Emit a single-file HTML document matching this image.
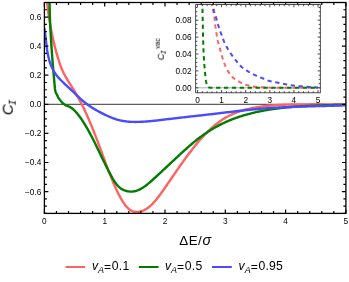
<!DOCTYPE html>
<html><head><meta charset="utf-8"><title>plot</title>
<style>html,body{margin:0;padding:0;background:#fff;}body{width:349px;height:282px;overflow:hidden;font-family:"Liberation Sans",sans-serif;}</style>
</head><body>
<svg width="349" height="282" viewBox="0 0 349 282" style="display:block">
<rect width="349" height="282" fill="#fff"/>
<defs>
<clipPath id="cm"><rect x="44.4" y="2.5" width="301.5" height="210.9"/></clipPath>
<clipPath id="ci"><rect x="195.7" y="4.6" width="124.60000000000002" height="88.2"/></clipPath>
</defs>
<line x1="44.4" y1="104.31" x2="345.9" y2="104.31" stroke="#000" stroke-width="0.8"/>
<g clip-path="url(#cm)" fill="none" stroke-width="2.4" stroke-linejoin="round">
<path d="M47.11,2.40 L47.21,3.38 L47.32,4.35 L47.43,5.33 L47.54,6.31 L47.66,7.28 L47.77,8.26 L47.89,9.23 L48.02,10.21 L48.14,11.19 L48.27,12.16 L48.40,13.14 L48.54,14.12 L48.67,15.09 L48.81,16.07 L48.96,17.04 L49.10,18.02 L49.25,19.00 L49.40,19.97 L49.56,20.95 L49.72,21.93 L49.88,22.90 L50.04,23.88 L50.21,24.85 L50.38,25.83 L50.55,26.81 L50.73,27.78 L50.91,28.76 L51.09,29.74 L51.28,30.71 L51.47,31.69 L51.66,32.66 L51.86,33.64 L52.06,34.62 L52.26,35.59 L52.47,36.57 L52.68,37.55 L52.90,38.52 L53.12,39.50 L53.34,40.47 L53.56,41.45 L53.79,42.43 L54.03,43.40 L54.26,44.38 L54.50,45.36 L54.75,46.33 L54.99,47.31 L55.25,48.28 L55.50,49.26 L55.76,50.24 L56.03,51.21 L56.29,52.19 L56.56,53.17 L56.84,54.14 L57.12,55.12 L57.40,56.09 L57.69,57.07 L57.98,58.05 L58.28,59.02 L58.58,60.00 L59.54,62.99 L60.50,65.70 L61.46,68.17 L62.42,70.43 L63.39,72.51 L64.35,74.43 L65.31,76.21 L66.27,77.89 L67.23,79.49 L68.19,81.04 L69.15,82.55 L70.11,84.05 L71.07,85.57 L72.03,87.11 L72.99,88.66 L73.96,90.24 L74.92,91.85 L75.88,93.48 L76.84,95.15 L77.80,96.85 L78.76,98.58 L79.72,100.35 L80.68,102.17 L81.64,104.02 L82.60,105.93 L83.57,107.88 L84.53,109.88 L85.49,111.93 L86.45,114.03 L87.41,116.19 L88.37,118.39 L89.33,120.64 L90.29,122.93 L91.25,125.26 L92.21,127.62 L93.17,130.02 L94.14,132.45 L95.10,134.92 L96.06,137.40 L97.02,139.91 L97.98,142.45 L98.94,145.00 L99.90,147.56 L100.86,150.14 L101.82,152.73 L102.78,155.33 L103.74,157.92 L104.71,160.50 L105.67,163.08 L106.63,165.64 L107.59,168.17 L108.55,170.68 L109.51,173.16 L110.47,175.61 L111.43,178.01 L112.39,180.37 L113.35,182.67 L114.32,184.92 L115.28,187.11 L116.24,189.23 L117.20,191.29 L118.16,193.26 L119.12,195.16 L120.08,196.98 L121.04,198.71 L122.00,200.35 L122.96,201.89 L123.92,203.33 L124.89,204.66 L125.85,205.89 L126.81,207.00 L127.77,207.99 L128.73,208.86 L129.69,209.61 L130.65,210.25 L131.61,210.78 L132.57,211.20 L133.53,211.53 L134.49,211.76 L135.46,211.91 L136.42,211.97 L137.38,211.96 L138.34,211.88 L139.30,211.73 L140.26,211.52 L141.22,211.26 L142.18,210.94 L143.14,210.56 L144.10,210.12 L145.06,209.63 L146.03,209.08 L146.99,208.47 L147.95,207.80 L148.91,207.08 L149.87,206.29 L150.83,205.44 L151.79,204.54 L152.75,203.57 L153.71,202.55 L154.67,201.47 L155.64,200.35 L156.60,199.18 L157.56,197.97 L158.52,196.73 L159.48,195.45 L160.44,194.14 L161.40,192.81 L162.36,191.46 L163.32,190.09 L164.28,188.71 L165.24,187.33 L166.21,185.94 L167.17,184.54 L168.13,183.15 L169.09,181.75 L170.05,180.35 L171.01,178.95 L171.97,177.55 L172.93,176.15 L173.89,174.75 L174.85,173.35 L175.81,171.96 L176.78,170.57 L177.74,169.18 L178.70,167.80 L179.66,166.43 L180.62,165.06 L181.58,163.70 L182.54,162.35 L183.50,161.01 L184.46,159.68 L185.42,158.35 L186.39,157.04 L187.35,155.74 L188.31,154.45 L189.27,153.18 L190.23,151.91 L191.19,150.66 L192.15,149.43 L193.11,148.20 L194.07,147.00 L195.03,145.80 L195.99,144.63 L196.96,143.46 L197.92,142.32 L198.88,141.19 L199.84,140.08 L200.80,138.99 L201.76,137.91 L202.72,136.86 L203.68,135.82 L204.64,134.80 L205.60,133.81 L206.56,132.83 L207.53,131.87 L208.49,130.94 L209.45,130.02 L210.41,129.13 L211.37,128.25 L212.33,127.40 L213.29,126.56 L214.25,125.75 L215.21,124.96 L216.17,124.18 L217.13,123.43 L218.10,122.70 L219.06,121.99 L220.02,121.30 L220.98,120.62 L221.94,119.97 L222.90,119.34 L223.86,118.73 L224.82,118.15 L225.78,117.58 L226.74,117.03 L227.71,116.50 L228.67,115.99 L229.63,115.50 L230.59,115.03 L231.55,114.57 L232.51,114.13 L233.47,113.71 L234.43,113.31 L235.39,112.92 L236.35,112.54 L237.31,112.18 L238.28,111.84 L239.24,111.51 L240.20,111.19 L241.16,110.88 L242.12,110.59 L243.08,110.30 L244.04,110.03 L245.00,109.77 L245.96,109.52 L246.92,109.28 L247.88,109.05 L248.85,108.82 L249.81,108.61 L250.77,108.40 L251.73,108.20 L252.69,108.00 L253.65,107.82 L254.61,107.64 L255.57,107.47 L256.53,107.30 L257.49,107.14 L258.46,106.99 L259.42,106.84 L260.38,106.70 L261.34,106.57 L262.30,106.44 L263.26,106.31 L264.22,106.20 L265.18,106.08 L266.14,105.98 L267.10,105.87 L268.06,105.78 L269.03,105.68 L269.99,105.60 L270.95,105.51 L271.91,105.43 L272.87,105.36 L273.83,105.29 L274.79,105.22 L275.75,105.16 L276.71,105.10 L277.67,105.04 L278.63,104.99 L279.60,104.94 L280.56,104.89 L281.52,104.85 L282.48,104.81 L283.44,104.77 L284.40,104.73 L285.36,104.70 L286.32,104.67 L287.28,104.64 L288.24,104.61 L289.20,104.59 L290.17,104.56 L291.13,104.54 L292.09,104.52 L293.05,104.50 L294.01,104.48 L294.97,104.46 L295.93,104.45 L296.89,104.43 L297.85,104.42 L298.81,104.40 L299.78,104.39 L300.74,104.38 L301.70,104.37 L302.66,104.36 L303.62,104.36 L304.58,104.35 L305.54,104.34 L306.50,104.34 L307.46,104.33 L308.42,104.33 L309.38,104.33 L310.35,104.32 L311.31,104.32 L312.27,104.32 L313.23,104.32 L314.19,104.32 L315.15,104.32 L316.11,104.32 L317.07,104.32 L318.03,104.32 L318.99,104.32 L319.95,104.32 L320.92,104.32 L321.88,104.32 L322.84,104.32 L323.80,104.32 L324.76,104.33 L325.72,104.33 L326.68,104.33 L327.64,104.33 L328.60,104.33 L329.56,104.33 L330.53,104.33 L331.49,104.33 L332.45,104.33 L333.41,104.32 L334.37,104.32 L335.33,104.32 L336.29,104.32 L337.25,104.31 L338.21,104.31 L339.17,104.30 L340.13,104.30 L341.10,104.29 L342.06,104.28 L343.02,104.28 L343.98,104.27 L344.94,104.26 L345.90,104.24" stroke="#ff6262"/>
<path d="M49.54,2.40 L49.57,3.97 L49.60,5.54 L49.63,7.11 L49.67,8.68 L49.71,10.25 L49.75,11.82 L49.79,13.39 L49.84,14.96 L49.90,16.53 L49.95,18.09 L50.01,19.66 L50.08,21.23 L50.14,22.80 L50.21,24.37 L50.28,25.94 L50.36,27.51 L50.44,29.08 L50.52,30.65 L50.60,32.22 L50.69,33.79 L50.78,35.36 L50.87,36.93 L50.96,38.50 L51.06,40.07 L51.16,41.64 L51.26,43.21 L51.36,44.78 L51.47,46.35 L51.58,47.92 L51.69,49.48 L51.80,51.05 L51.91,52.62 L52.03,54.19 L52.15,55.76 L52.27,57.33 L52.39,58.90 L52.51,60.47 L52.64,62.04 L52.76,63.61 L52.89,65.18 L53.02,66.75 L53.15,68.32 L53.29,69.89 L53.42,71.46 L53.55,73.03 L53.69,74.60 L53.83,76.17 L53.97,77.74 L54.11,79.31 L54.25,80.87 L54.39,82.44 L54.53,84.01 L54.67,85.58 L54.82,87.15 L54.96,88.72 L55.16,90.29 L55.52,91.86 L56.14,93.43 L57.13,95.00 L58.10,97.26 L59.06,98.85 L60.03,100.09 L61.00,101.24 L61.96,102.31 L62.93,103.28 L63.89,104.11 L64.86,104.77 L65.82,105.29 L66.79,105.71 L67.76,106.10 L68.72,106.48 L69.69,106.91 L70.65,107.43 L71.62,108.05 L72.58,108.78 L73.55,109.60 L74.52,110.51 L75.48,111.50 L76.45,112.57 L77.41,113.71 L78.38,114.92 L79.34,116.19 L80.31,117.52 L81.28,118.90 L82.24,120.34 L83.21,121.82 L84.17,123.35 L85.14,124.92 L86.11,126.54 L87.07,128.20 L88.04,129.90 L89.00,131.63 L89.97,133.41 L90.93,135.22 L91.90,137.06 L92.87,138.93 L93.83,140.83 L94.80,142.76 L95.76,144.71 L96.73,146.69 L97.69,148.68 L98.66,150.69 L99.63,152.70 L100.59,154.72 L101.56,156.74 L102.52,158.75 L103.49,160.75 L104.46,162.74 L105.42,164.71 L106.39,166.66 L107.35,168.58 L108.32,170.47 L109.28,172.33 L110.25,174.14 L111.22,175.91 L112.18,177.62 L113.15,179.25 L114.11,180.81 L115.08,182.27 L116.04,183.63 L117.01,184.87 L117.98,185.98 L118.94,186.95 L119.91,187.80 L120.87,188.52 L121.84,189.14 L122.81,189.67 L123.77,190.11 L124.74,190.47 L125.70,190.78 L126.67,191.04 L127.63,191.25 L128.60,191.41 L129.57,191.52 L130.53,191.58 L131.50,191.59 L132.46,191.54 L133.43,191.44 L134.39,191.28 L135.36,191.06 L136.33,190.79 L137.29,190.46 L138.26,190.08 L139.22,189.65 L140.19,189.18 L141.15,188.66 L142.12,188.09 L143.09,187.48 L144.05,186.84 L145.02,186.16 L145.98,185.44 L146.95,184.70 L147.92,183.93 L148.88,183.13 L149.85,182.31 L150.81,181.48 L151.78,180.63 L152.74,179.76 L153.71,178.89 L154.68,178.01 L155.64,177.12 L156.61,176.24 L157.57,175.35 L158.54,174.45 L159.50,173.56 L160.47,172.66 L161.44,171.76 L162.40,170.86 L163.37,169.96 L164.33,169.06 L165.30,168.15 L166.27,167.25 L167.23,166.34 L168.20,165.44 L169.16,164.53 L170.13,163.63 L171.09,162.72 L172.06,161.81 L173.03,160.91 L173.99,160.01 L174.96,159.10 L175.92,158.20 L176.89,157.30 L177.85,156.40 L178.82,155.51 L179.79,154.61 L180.75,153.73 L181.72,152.84 L182.68,151.96 L183.65,151.08 L184.61,150.21 L185.58,149.34 L186.55,148.48 L187.51,147.63 L188.48,146.78 L189.44,145.94 L190.41,145.11 L191.38,144.29 L192.34,143.47 L193.31,142.67 L194.27,141.87 L195.24,141.08 L196.20,140.31 L197.17,139.54 L198.14,138.79 L199.10,138.05 L200.07,137.31 L201.03,136.60 L202.00,135.89 L202.96,135.20 L203.93,134.51 L204.90,133.84 L205.86,133.19 L206.83,132.54 L207.79,131.90 L208.76,131.28 L209.73,130.67 L210.69,130.07 L211.66,129.48 L212.62,128.90 L213.59,128.33 L214.55,127.78 L215.52,127.23 L216.49,126.69 L217.45,126.17 L218.42,125.65 L219.38,125.15 L220.35,124.65 L221.31,124.17 L222.28,123.69 L223.25,123.23 L224.21,122.77 L225.18,122.32 L226.14,121.89 L227.11,121.46 L228.07,121.04 L229.04,120.63 L230.01,120.23 L230.97,119.83 L231.94,119.45 L232.90,119.07 L233.87,118.70 L234.84,118.34 L235.80,117.99 L236.77,117.65 L237.73,117.31 L238.70,116.98 L239.66,116.66 L240.63,116.34 L241.60,116.03 L242.56,115.73 L243.53,115.44 L244.49,115.15 L245.46,114.87 L246.42,114.59 L247.39,114.33 L248.36,114.06 L249.32,113.81 L250.29,113.56 L251.25,113.31 L252.22,113.07 L253.19,112.84 L254.15,112.61 L255.12,112.38 L256.08,112.16 L257.05,111.95 L258.01,111.74 L258.98,111.54 L259.95,111.34 L260.91,111.14 L261.88,110.95 L262.84,110.76 L263.81,110.58 L264.77,110.41 L265.74,110.23 L266.71,110.06 L267.67,109.90 L268.64,109.74 L269.60,109.58 L270.57,109.43 L271.54,109.28 L272.50,109.14 L273.47,108.99 L274.43,108.86 L275.40,108.72 L276.36,108.59 L277.33,108.47 L278.30,108.34 L279.26,108.22 L280.23,108.11 L281.19,107.99 L282.16,107.88 L283.12,107.78 L284.09,107.67 L285.06,107.57 L286.02,107.47 L286.99,107.38 L287.95,107.29 L288.92,107.20 L289.88,107.11 L290.85,107.02 L291.82,106.94 L292.78,106.86 L293.75,106.79 L294.71,106.71 L295.68,106.64 L296.65,106.57 L297.61,106.50 L298.58,106.43 L299.54,106.37 L300.51,106.31 L301.47,106.25 L302.44,106.19 L303.41,106.13 L304.37,106.08 L305.34,106.03 L306.30,105.98 L307.27,105.93 L308.23,105.88 L309.20,105.83 L310.17,105.79 L311.13,105.75 L312.10,105.71 L313.06,105.67 L314.03,105.63 L315.00,105.59 L315.96,105.55 L316.93,105.52 L317.89,105.49 L318.86,105.45 L319.82,105.42 L320.79,105.39 L321.76,105.36 L322.72,105.33 L323.69,105.30 L324.65,105.28 L325.62,105.25 L326.58,105.23 L327.55,105.20 L328.52,105.18 L329.48,105.15 L330.45,105.13 L331.41,105.11 L332.38,105.09 L333.34,105.06 L334.31,105.04 L335.28,105.02 L336.24,105.00 L337.21,104.98 L338.17,104.96 L339.14,104.94 L340.11,104.92 L341.07,104.90 L342.04,104.88 L343.00,104.86 L343.97,104.84 L344.93,104.82 L345.90,104.80" stroke="#007d00"/>
<path d="M44.35,28.00 L44.45,28.58 L44.54,29.15 L44.63,29.73 L44.71,30.31 L44.79,30.88 L44.87,31.46 L44.95,32.03 L45.03,32.61 L45.10,33.19 L45.17,33.76 L45.24,34.34 L45.31,34.92 L45.38,35.49 L45.45,36.07 L45.51,36.64 L45.58,37.22 L45.64,37.80 L45.71,38.37 L45.77,38.95 L45.83,39.53 L45.90,40.10 L45.96,40.68 L46.02,41.25 L46.09,41.83 L46.15,42.41 L46.22,42.98 L46.28,43.56 L46.35,44.14 L46.42,44.71 L46.49,45.29 L46.56,45.86 L46.64,46.44 L46.71,47.02 L46.79,47.59 L46.87,48.17 L46.95,48.75 L47.03,49.32 L47.12,49.90 L47.21,50.47 L47.30,51.05 L47.39,51.63 L47.49,52.20 L47.60,52.78 L47.70,53.36 L47.81,53.93 L47.92,54.51 L48.04,55.08 L48.16,55.66 L48.29,56.24 L48.42,56.81 L48.55,57.39 L48.69,57.97 L48.83,58.54 L48.98,59.12 L49.14,59.69 L49.30,60.27 L49.46,60.85 L49.64,61.42 L49.81,62.00 L50.80,64.75 L51.79,67.17 L52.78,69.28 L53.77,71.14 L54.76,72.77 L55.75,74.22 L56.74,75.52 L57.73,76.73 L58.72,77.87 L59.72,78.96 L60.71,80.01 L61.70,81.02 L62.69,82.01 L63.68,82.96 L64.67,83.90 L65.66,84.82 L66.65,85.73 L67.64,86.63 L68.63,87.54 L69.62,88.45 L70.61,89.37 L71.60,90.31 L72.59,91.25 L73.58,92.20 L74.57,93.16 L75.56,94.11 L76.55,95.07 L77.54,96.01 L78.53,96.95 L79.52,97.88 L80.51,98.79 L81.50,99.68 L82.49,100.56 L83.48,101.41 L84.47,102.24 L85.46,103.03 L86.45,103.80 L87.44,104.54 L88.43,105.25 L89.42,105.94 L90.41,106.61 L91.40,107.25 L92.39,107.87 L93.38,108.48 L94.37,109.07 L95.36,109.64 L96.35,110.20 L97.35,110.75 L98.34,111.29 L99.33,111.82 L100.32,112.34 L101.31,112.86 L102.30,113.36 L103.29,113.87 L104.28,114.36 L105.27,114.84 L106.26,115.32 L107.25,115.78 L108.24,116.23 L109.23,116.67 L110.22,117.09 L111.21,117.50 L112.20,117.89 L113.19,118.27 L114.18,118.63 L115.17,118.97 L116.16,119.29 L117.15,119.60 L118.14,119.88 L119.13,120.14 L120.12,120.38 L121.11,120.60 L122.10,120.80 L123.09,120.98 L124.08,121.14 L125.07,121.28 L126.06,121.41 L127.05,121.53 L128.04,121.62 L129.03,121.71 L130.02,121.77 L131.01,121.83 L132.00,121.87 L132.99,121.90 L133.98,121.92 L134.97,121.93 L135.97,121.93 L136.96,121.92 L137.95,121.90 L138.94,121.88 L139.93,121.84 L140.92,121.80 L141.91,121.76 L142.90,121.71 L143.89,121.65 L144.88,121.58 L145.87,121.52 L146.86,121.44 L147.85,121.36 L148.84,121.28 L149.83,121.20 L150.82,121.10 L151.81,121.01 L152.80,120.91 L153.79,120.81 L154.78,120.70 L155.77,120.60 L156.76,120.49 L157.75,120.38 L158.74,120.26 L159.73,120.14 L160.72,120.03 L161.71,119.91 L162.70,119.79 L163.69,119.67 L164.68,119.54 L165.67,119.42 L166.66,119.30 L167.65,119.18 L168.64,119.06 L169.63,118.94 L170.62,118.82 L171.61,118.70 L172.60,118.58 L173.59,118.46 L174.59,118.34 L175.58,118.23 L176.57,118.11 L177.56,117.99 L178.55,117.88 L179.54,117.77 L180.53,117.65 L181.52,117.54 L182.51,117.43 L183.50,117.32 L184.49,117.21 L185.48,117.09 L186.47,116.98 L187.46,116.87 L188.45,116.76 L189.44,116.65 L190.43,116.54 L191.42,116.43 L192.41,116.32 L193.40,116.21 L194.39,116.10 L195.38,115.99 L196.37,115.88 L197.36,115.77 L198.35,115.66 L199.34,115.55 L200.33,115.44 L201.32,115.33 L202.31,115.22 L203.30,115.11 L204.29,115.00 L205.28,114.89 L206.27,114.78 L207.26,114.66 L208.25,114.55 L209.24,114.43 L210.23,114.32 L211.22,114.20 L212.22,114.09 L213.21,113.97 L214.20,113.86 L215.19,113.74 L216.18,113.62 L217.17,113.50 L218.16,113.38 L219.15,113.27 L220.14,113.15 L221.13,113.03 L222.12,112.91 L223.11,112.79 L224.10,112.67 L225.09,112.55 L226.08,112.43 L227.07,112.31 L228.06,112.20 L229.05,112.08 L230.04,111.96 L231.03,111.84 L232.02,111.73 L233.01,111.61 L234.00,111.49 L234.99,111.38 L235.98,111.26 L236.97,111.15 L237.96,111.04 L238.95,110.92 L239.94,110.81 L240.93,110.70 L241.92,110.59 L242.91,110.48 L243.90,110.37 L244.89,110.27 L245.88,110.16 L246.87,110.06 L247.86,109.95 L248.85,109.85 L249.84,109.75 L250.84,109.65 L251.83,109.55 L252.82,109.46 L253.81,109.36 L254.80,109.27 L255.79,109.18 L256.78,109.08 L257.77,109.00 L258.76,108.91 L259.75,108.82 L260.74,108.74 L261.73,108.66 L262.72,108.58 L263.71,108.50 L264.70,108.43 L265.69,108.35 L266.68,108.28 L267.67,108.21 L268.66,108.14 L269.65,108.07 L270.64,108.01 L271.63,107.94 L272.62,107.88 L273.61,107.82 L274.60,107.76 L275.59,107.70 L276.58,107.64 L277.57,107.59 L278.56,107.53 L279.55,107.48 L280.54,107.43 L281.53,107.38 L282.52,107.33 L283.51,107.28 L284.50,107.23 L285.49,107.19 L286.48,107.14 L287.47,107.10 L288.46,107.06 L289.46,107.02 L290.45,106.98 L291.44,106.94 L292.43,106.90 L293.42,106.86 L294.41,106.82 L295.40,106.79 L296.39,106.75 L297.38,106.72 L298.37,106.68 L299.36,106.65 L300.35,106.62 L301.34,106.58 L302.33,106.55 L303.32,106.52 L304.31,106.49 L305.30,106.46 L306.29,106.43 L307.28,106.40 L308.27,106.38 L309.26,106.35 L310.25,106.32 L311.24,106.29 L312.23,106.27 L313.22,106.24 L314.21,106.21 L315.20,106.19 L316.19,106.16 L317.18,106.14 L318.17,106.11 L319.16,106.09 L320.15,106.06 L321.14,106.03 L322.13,106.01 L323.12,105.98 L324.11,105.96 L325.10,105.93 L326.09,105.91 L327.09,105.88 L328.08,105.86 L329.07,105.83 L330.06,105.80 L331.05,105.78 L332.04,105.75 L333.03,105.72 L334.02,105.69 L335.01,105.67 L336.00,105.64 L336.99,105.61 L337.98,105.58 L338.97,105.55 L339.96,105.52 L340.95,105.49 L341.94,105.46 L342.93,105.42 L343.92,105.39 L344.91,105.36 L345.90,105.32" stroke="#4a4aff"/>
</g>
<path d="M44.40,213.4v-4.0M44.40,2.5v4.0M56.46,213.4v-2.5M56.46,2.5v2.5M68.52,213.4v-2.5M68.52,2.5v2.5M80.58,213.4v-2.5M80.58,2.5v2.5M92.64,213.4v-2.5M92.64,2.5v2.5M104.70,213.4v-4.0M104.70,2.5v4.0M116.76,213.4v-2.5M116.76,2.5v2.5M128.82,213.4v-2.5M128.82,2.5v2.5M140.88,213.4v-2.5M140.88,2.5v2.5M152.94,213.4v-2.5M152.94,2.5v2.5M165.00,213.4v-4.0M165.00,2.5v4.0M177.06,213.4v-2.5M177.06,2.5v2.5M189.12,213.4v-2.5M189.12,2.5v2.5M201.18,213.4v-2.5M201.18,2.5v2.5M213.24,213.4v-2.5M213.24,2.5v2.5M225.30,213.4v-4.0M225.30,2.5v4.0M237.36,213.4v-2.5M237.36,2.5v2.5M249.42,213.4v-2.5M249.42,2.5v2.5M261.48,213.4v-2.5M261.48,2.5v2.5M273.54,213.4v-2.5M273.54,2.5v2.5M285.60,213.4v-4.0M285.60,2.5v4.0M297.66,213.4v-2.5M297.66,2.5v2.5M309.72,213.4v-2.5M309.72,2.5v2.5M321.78,213.4v-2.5M321.78,2.5v2.5M333.84,213.4v-2.5M333.84,2.5v2.5M345.90,213.4v-4.0M345.90,2.5v4.0M44.4,213.40h2.5M345.9,213.40h-2.5M44.4,206.13h2.5M345.9,206.13h-2.5M44.4,198.86h2.5M345.9,198.86h-2.5M44.4,191.58h4.0M345.9,191.58h-4.0M44.4,184.31h2.5M345.9,184.31h-2.5M44.4,177.04h2.5M345.9,177.04h-2.5M44.4,169.77h2.5M345.9,169.77h-2.5M44.4,162.49h4.0M345.9,162.49h-4.0M44.4,155.22h2.5M345.9,155.22h-2.5M44.4,147.95h2.5M345.9,147.95h-2.5M44.4,140.68h2.5M345.9,140.68h-2.5M44.4,133.40h4.0M345.9,133.40h-4.0M44.4,126.13h2.5M345.9,126.13h-2.5M44.4,118.86h2.5M345.9,118.86h-2.5M44.4,111.59h2.5M345.9,111.59h-2.5M44.4,104.31h4.0M345.9,104.31h-4.0M44.4,97.04h2.5M345.9,97.04h-2.5M44.4,89.77h2.5M345.9,89.77h-2.5M44.4,82.50h2.5M345.9,82.50h-2.5M44.4,75.22h4.0M345.9,75.22h-4.0M44.4,67.95h2.5M345.9,67.95h-2.5M44.4,60.68h2.5M345.9,60.68h-2.5M44.4,53.41h2.5M345.9,53.41h-2.5M44.4,46.13h4.0M345.9,46.13h-4.0M44.4,38.86h2.5M345.9,38.86h-2.5M44.4,31.59h2.5M345.9,31.59h-2.5M44.4,24.32h2.5M345.9,24.32h-2.5M44.4,17.04h4.0M345.9,17.04h-4.0M44.4,9.77h2.5M345.9,9.77h-2.5M44.4,2.50h2.5M345.9,2.50h-2.5" stroke="#000" stroke-width="1.2" fill="none"/>
<rect x="44.4" y="2.5" width="301.5" height="210.9" fill="none" stroke="#000" stroke-width="1.3"/>
<g font-family="Liberation Sans, sans-serif" font-size="8.3" fill="#000" style="filter:grayscale(1)">
<text x="44.40" y="224.3" text-anchor="middle">0</text>
<text x="104.70" y="224.3" text-anchor="middle">1</text>
<text x="165.00" y="224.3" text-anchor="middle">2</text>
<text x="225.30" y="224.3" text-anchor="middle">3</text>
<text x="285.60" y="224.3" text-anchor="middle">4</text>
<text x="345.90" y="224.3" text-anchor="middle">5</text>
<text x="41.4" y="20.04" text-anchor="end">0.6</text>
<text x="41.4" y="49.13" text-anchor="end">0.4</text>
<text x="41.4" y="78.22" text-anchor="end">0.2</text>
<text x="41.4" y="107.31" text-anchor="end">0.0</text>
<text x="41.4" y="136.40" text-anchor="end">−0.2</text>
<text x="41.4" y="165.49" text-anchor="end">−0.4</text>
<text x="41.4" y="194.58" text-anchor="end">−0.6</text>
</g>
<rect x="195.7" y="4.6" width="124.60000000000002" height="88.2" fill="#fff"/>
<line x1="195.7" y1="87.8" x2="320.3" y2="87.8" stroke="#999" stroke-width="0.8"/>
<g clip-path="url(#ci)" fill="none" stroke-width="2.0" stroke-dasharray="4.3 3.6" stroke-dashoffset="4.1">
<path d="M212.70,5.00 L212.73,5.41 L212.76,5.82 L212.79,6.23 L212.82,6.64 L212.86,7.05 L212.90,7.45 L212.93,7.86 L212.98,8.27 L213.02,8.68 L213.06,9.09 L213.11,9.49 L213.15,9.90 L213.20,10.31 L213.25,10.71 L213.31,11.12 L213.37,11.52 L213.44,11.93 L213.50,12.33 L213.58,12.74 L213.65,13.14 L213.73,13.54 L213.80,13.95 L213.88,14.35 L213.96,14.75 L214.03,15.16 L214.11,15.56 L214.18,15.96 L214.25,16.37 L214.32,16.77 L214.38,17.18 L214.44,17.58 L214.50,17.99 L214.55,18.39 L214.60,18.80 L214.64,19.21 L214.69,19.62 L214.73,20.02 L214.77,20.43 L214.81,20.84 L214.84,21.25 L214.88,21.66 L214.92,22.07 L214.96,22.47 L214.99,22.88 L215.03,23.29 L215.07,23.70 L215.11,24.11 L215.15,24.52 L215.20,24.92 L215.24,25.33 L215.29,25.74 L215.34,26.14 L215.40,26.55 L215.45,26.96 L215.51,27.36 L215.57,27.77 L215.63,28.17 L215.69,28.58 L215.75,28.98 L215.82,29.39 L215.88,29.79 L215.95,30.20 L216.01,30.60 L216.08,31.01 L216.15,31.41 L216.22,31.82 L216.29,32.22 L216.35,32.63 L216.42,33.03 L216.49,33.43 L216.56,33.84 L216.62,34.24 L216.69,34.65 L216.76,35.05 L216.82,35.46 L216.89,35.86 L216.96,36.27 L217.03,36.67 L217.09,37.08 L217.16,37.48 L217.23,37.89 L217.31,38.29 L217.38,38.69 L217.45,39.10 L217.53,39.50 L217.61,39.90 L217.69,40.30 L217.77,40.70 L217.86,41.10 L217.95,41.50 L218.04,41.90 L218.14,42.30 L218.24,42.70 L218.34,43.09 L218.45,43.49 L218.56,43.88 L218.67,44.28 L218.79,44.67 L218.90,45.07 L219.02,45.46 L219.13,45.85 L219.25,46.25 L219.36,46.64 L219.47,47.04 L219.58,47.43 L219.69,47.83 L219.80,48.22 L219.90,48.62 L220.01,49.02 L220.11,49.41 L220.21,49.81 L220.32,50.21 L220.42,50.60 L220.53,51.00 L220.63,51.40 L220.73,51.79 L220.84,52.19 L220.94,52.59 L221.05,52.98 L221.16,53.38 L221.27,53.77 L221.38,54.17 L221.49,54.56 L221.60,54.96 L221.71,55.35 L221.83,55.74 L221.95,56.14 L222.06,56.53 L222.18,56.92 L222.30,57.32 L222.41,57.71 L222.53,58.10 L222.66,58.50 L222.78,58.89 L222.90,59.28 L223.03,59.67 L223.15,60.06 L223.28,60.45 L223.42,60.84 L223.55,61.22 L223.69,61.61 L223.82,61.99 L223.97,62.38 L224.11,62.76 L224.25,63.14 L224.40,63.53 L224.55,63.91 L224.70,64.29 L224.86,64.68 L225.01,65.06 L225.17,65.44 L225.33,65.82 L225.50,66.20 L225.66,66.58 L225.83,66.95 L226.00,67.33 L226.18,67.70 L226.35,68.07 L226.53,68.44 L226.72,68.80 L226.90,69.16 L227.09,69.52 L227.29,69.88 L227.48,70.23 L227.69,70.59 L227.89,70.94 L228.10,71.30 L228.31,71.65 L228.53,72.01 L228.75,72.36 L228.98,72.71 L229.21,73.06 L229.45,73.41 L229.68,73.75 L229.93,74.09 L230.17,74.42 L230.42,74.75 L230.68,75.08 L230.94,75.39 L231.20,75.71 L231.46,76.01 L231.73,76.31 L232.00,76.60 L232.28,76.88 L232.57,77.16 L232.86,77.43 L233.16,77.70 L233.47,77.97 L233.78,78.23 L234.10,78.49 L234.43,78.74 L234.76,78.99 L235.10,79.24 L235.44,79.48 L235.78,79.72 L236.13,79.95 L236.48,80.18 L236.83,80.40 L237.18,80.62 L237.54,80.84 L237.89,81.05 L238.24,81.25 L238.59,81.45 L238.95,81.65 L239.30,81.85 L239.66,82.04 L240.02,82.24 L240.39,82.43 L240.76,82.62 L241.12,82.81 L241.50,82.99 L241.87,83.17 L242.25,83.35 L242.62,83.52 L243.00,83.69 L243.38,83.85 L243.76,84.01 L244.15,84.16 L244.53,84.31 L244.91,84.45 L245.30,84.59 L245.69,84.71 L246.07,84.83 L246.46,84.95 L246.85,85.06 L247.24,85.16 L247.63,85.27 L248.03,85.37 L248.43,85.47 L248.82,85.57 L249.22,85.67 L249.62,85.76 L250.03,85.85 L250.43,85.94 L250.83,86.03 L251.24,86.11 L251.64,86.19 L252.05,86.26 L252.46,86.34 L252.86,86.41 L253.27,86.47 L253.68,86.53 L254.08,86.59 L254.49,86.65 L254.89,86.70 L255.30,86.75 L255.70,86.80 L256.11,86.84 L256.52,86.89 L256.93,86.93 L257.33,86.97 L257.74,87.01 L258.15,87.05 L258.56,87.09 L258.97,87.12 L259.38,87.15 L259.79,87.18 L260.20,87.21 L260.61,87.24 L261.02,87.26 L261.43,87.29 L261.84,87.31 L262.25,87.33 L262.65,87.34 L263.06,87.36 L263.47,87.38 L263.88,87.40 L264.29,87.42 L264.70,87.43 L265.11,87.45 L265.52,87.47 L265.93,87.48 L266.34,87.50 L266.75,87.52 L267.16,87.53 L267.57,87.54 L267.98,87.56 L268.39,87.57 L268.80,87.58 L269.21,87.60 L269.62,87.61 L270.03,87.62 L270.44,87.63 L270.85,87.64 L271.26,87.65 L271.67,87.66 L272.08,87.67 L272.49,87.67 L272.90,87.68 L273.31,87.68 L273.72,87.69 L274.13,87.69 L274.54,87.70 L274.95,87.70 L275.36,87.70 L275.77,87.70 L276.18,87.71 L276.59,87.71 L277.00,87.71 L277.41,87.71 L277.82,87.71 L278.23,87.72 L278.64,87.72 L279.05,87.72 L279.46,87.72 L279.87,87.72 L280.28,87.72 L280.69,87.73 L281.10,87.73 L281.51,87.73 L281.92,87.73 L282.33,87.73 L282.74,87.74 L283.15,87.74 L283.56,87.74 L283.97,87.74 L284.38,87.74 L284.79,87.74 L285.20,87.74 L285.61,87.75 L286.02,87.75 L286.43,87.75 L286.84,87.75 L287.25,87.75 L287.66,87.75 L288.07,87.75 L288.48,87.76 L288.89,87.76 L289.30,87.76 L289.71,87.76 L290.12,87.76 L290.53,87.76 L290.94,87.76 L291.35,87.76 L291.76,87.77 L292.17,87.77 L292.58,87.77 L292.99,87.77 L293.40,87.77 L293.81,87.77 L294.22,87.77 L294.63,87.77 L295.04,87.77 L295.45,87.77 L295.86,87.78 L296.27,87.78 L296.68,87.78 L297.09,87.78 L297.50,87.78 L297.91,87.78 L298.32,87.78 L298.73,87.78 L299.14,87.78 L299.55,87.78 L299.96,87.78 L300.37,87.79 L300.78,87.79 L301.19,87.79 L301.60,87.79 L302.01,87.79 L302.42,87.79 L302.83,87.79 L303.24,87.79 L303.65,87.79 L304.06,87.79 L304.47,87.79 L304.88,87.79 L305.29,87.79 L305.70,87.79 L306.11,87.79 L306.52,87.79 L306.93,87.79 L307.34,87.79 L307.75,87.80 L308.16,87.80 L308.57,87.80 L308.98,87.80 L309.39,87.80 L309.80,87.80 L310.21,87.80 L310.62,87.80 L311.03,87.80 L311.44,87.80 L311.85,87.80 L312.26,87.80 L312.67,87.80 L313.08,87.80 L313.49,87.80 L313.90,87.80 L314.31,87.80 L314.72,87.80 L315.13,87.80 L315.54,87.80 L315.95,87.80 L316.36,87.80 L316.77,87.80 L317.18,87.80 L317.59,87.80 L318.00,87.80" stroke="#ff6262"/>
<path d="M213.20,5.00 L213.23,5.38 L213.26,5.75 L213.30,6.13 L213.33,6.50 L213.38,6.88 L213.42,7.25 L213.47,7.62 L213.52,7.99 L213.58,8.36 L213.64,8.73 L213.69,9.10 L213.76,9.47 L213.82,9.84 L213.88,10.21 L213.95,10.57 L214.03,10.94 L214.11,11.30 L214.20,11.66 L214.29,12.02 L214.39,12.38 L214.50,12.74 L214.60,13.10 L214.72,13.46 L214.83,13.82 L214.95,14.17 L215.07,14.53 L215.19,14.89 L215.31,15.25 L215.43,15.60 L215.55,15.96 L215.67,16.32 L215.79,16.68 L215.90,17.03 L216.02,17.39 L216.13,17.75 L216.23,18.11 L216.34,18.47 L216.44,18.83 L216.54,19.19 L216.64,19.55 L216.74,19.92 L216.84,20.28 L216.94,20.64 L217.03,21.00 L217.13,21.36 L217.23,21.73 L217.33,22.09 L217.43,22.45 L217.53,22.81 L217.63,23.17 L217.73,23.53 L217.83,23.89 L217.94,24.25 L218.04,24.61 L218.15,24.97 L218.26,25.33 L218.37,25.69 L218.48,26.05 L218.59,26.40 L218.71,26.76 L218.83,27.12 L218.94,27.47 L219.07,27.83 L219.19,28.18 L219.31,28.54 L219.43,28.89 L219.56,29.24 L219.69,29.60 L219.81,29.95 L219.94,30.30 L220.07,30.66 L220.19,31.01 L220.32,31.36 L220.45,31.71 L220.57,32.07 L220.70,32.42 L220.83,32.77 L220.95,33.13 L221.08,33.48 L221.20,33.84 L221.32,34.19 L221.45,34.54 L221.57,34.90 L221.69,35.25 L221.81,35.61 L221.94,35.96 L222.06,36.32 L222.19,36.67 L222.31,37.03 L222.44,37.38 L222.57,37.73 L222.70,38.08 L222.83,38.43 L222.96,38.79 L223.09,39.13 L223.23,39.48 L223.37,39.83 L223.51,40.18 L223.65,40.52 L223.80,40.87 L223.94,41.21 L224.09,41.56 L224.25,41.90 L224.40,42.24 L224.55,42.58 L224.71,42.92 L224.87,43.26 L225.03,43.60 L225.20,43.94 L225.36,44.28 L225.53,44.62 L225.70,44.95 L225.87,45.29 L226.04,45.62 L226.21,45.95 L226.38,46.28 L226.56,46.61 L226.74,46.94 L226.92,47.27 L227.10,47.60 L227.28,47.92 L227.47,48.25 L227.65,48.58 L227.84,48.90 L228.03,49.22 L228.23,49.55 L228.42,49.87 L228.61,50.19 L228.81,50.51 L229.01,50.83 L229.21,51.15 L229.41,51.47 L229.61,51.78 L229.81,52.10 L230.02,52.41 L230.22,52.73 L230.43,53.04 L230.63,53.35 L230.84,53.66 L231.05,53.97 L231.26,54.28 L231.47,54.59 L231.69,54.90 L231.90,55.21 L232.12,55.51 L232.34,55.82 L232.56,56.12 L232.78,56.43 L233.00,56.73 L233.22,57.03 L233.45,57.33 L233.67,57.63 L233.90,57.93 L234.12,58.23 L234.35,58.53 L234.58,58.83 L234.81,59.12 L235.04,59.42 L235.28,59.71 L235.51,60.01 L235.74,60.30 L235.97,60.59 L236.21,60.89 L236.44,61.18 L236.68,61.48 L236.91,61.77 L237.14,62.07 L237.38,62.37 L237.62,62.66 L237.85,62.96 L238.09,63.25 L238.33,63.54 L238.58,63.83 L238.82,64.12 L239.07,64.40 L239.31,64.69 L239.57,64.96 L239.82,65.24 L240.08,65.51 L240.34,65.77 L240.60,66.03 L240.87,66.29 L241.14,66.54 L241.41,66.78 L241.70,67.02 L241.98,67.26 L242.27,67.49 L242.57,67.72 L242.86,67.95 L243.16,68.17 L243.47,68.40 L243.78,68.62 L244.09,68.83 L244.40,69.05 L244.71,69.26 L245.03,69.47 L245.34,69.68 L245.66,69.88 L245.98,70.09 L246.29,70.29 L246.61,70.49 L246.93,70.69 L247.24,70.89 L247.56,71.09 L247.88,71.28 L248.20,71.48 L248.52,71.67 L248.84,71.87 L249.16,72.06 L249.49,72.25 L249.81,72.43 L250.14,72.62 L250.47,72.81 L250.80,72.99 L251.13,73.17 L251.46,73.35 L251.79,73.53 L252.12,73.71 L252.45,73.88 L252.78,74.06 L253.12,74.23 L253.45,74.40 L253.79,74.56 L254.12,74.73 L254.46,74.89 L254.80,75.05 L255.14,75.21 L255.48,75.37 L255.82,75.52 L256.16,75.67 L256.50,75.82 L256.85,75.96 L257.19,76.11 L257.54,76.25 L257.89,76.39 L258.24,76.53 L258.59,76.67 L258.93,76.81 L259.28,76.95 L259.63,77.09 L259.98,77.22 L260.33,77.36 L260.68,77.50 L261.03,77.64 L261.38,77.77 L261.73,77.91 L262.08,78.05 L262.43,78.19 L262.77,78.34 L263.12,78.48 L263.47,78.63 L263.81,78.78 L264.16,78.93 L264.51,79.08 L264.85,79.22 L265.20,79.37 L265.55,79.52 L265.90,79.66 L266.25,79.80 L266.60,79.94 L266.94,80.08 L267.29,80.21 L267.65,80.34 L268.00,80.47 L268.35,80.59 L268.70,80.71 L269.06,80.83 L269.41,80.93 L269.77,81.04 L270.13,81.13 L270.49,81.23 L270.85,81.32 L271.21,81.40 L271.57,81.49 L271.94,81.57 L272.30,81.65 L272.67,81.73 L273.04,81.80 L273.40,81.88 L273.77,81.95 L274.14,82.02 L274.51,82.09 L274.88,82.16 L275.25,82.23 L275.62,82.30 L275.99,82.36 L276.36,82.43 L276.73,82.49 L277.10,82.56 L277.47,82.63 L277.84,82.69 L278.21,82.76 L278.58,82.83 L278.95,82.90 L279.32,82.97 L279.69,83.04 L280.06,83.11 L280.43,83.19 L280.79,83.26 L281.16,83.34 L281.53,83.42 L281.90,83.49 L282.26,83.57 L282.63,83.65 L283.00,83.73 L283.36,83.81 L283.73,83.89 L284.10,83.97 L284.47,84.05 L284.83,84.13 L285.20,84.20 L285.57,84.28 L285.93,84.36 L286.30,84.43 L286.67,84.51 L287.04,84.58 L287.41,84.65 L287.77,84.72 L288.14,84.78 L288.51,84.85 L288.88,84.91 L289.25,84.97 L289.62,85.03 L289.99,85.08 L290.36,85.14 L290.73,85.19 L291.10,85.24 L291.47,85.29 L291.84,85.33 L292.22,85.38 L292.59,85.43 L292.96,85.47 L293.33,85.51 L293.70,85.56 L294.08,85.60 L294.45,85.64 L294.82,85.68 L295.20,85.72 L295.57,85.76 L295.94,85.80 L296.32,85.84 L296.69,85.87 L297.06,85.91 L297.44,85.95 L297.81,85.98 L298.18,86.02 L298.56,86.06 L298.93,86.09 L299.30,86.13 L299.68,86.16 L300.05,86.20 L300.42,86.23 L300.80,86.26 L301.17,86.30 L301.54,86.33 L301.92,86.36 L302.29,86.40 L302.66,86.43 L303.04,86.46 L303.41,86.49 L303.79,86.52 L304.16,86.55 L304.53,86.58 L304.91,86.61 L305.28,86.64 L305.65,86.67 L306.03,86.70 L306.40,86.73 L306.78,86.76 L307.15,86.79 L307.52,86.81 L307.90,86.84 L308.27,86.87 L308.65,86.90 L309.02,86.92 L309.39,86.95 L309.77,86.98 L310.14,87.00 L310.52,87.03 L310.89,87.06 L311.26,87.08 L311.64,87.11 L312.01,87.13 L312.39,87.16 L312.76,87.18 L313.13,87.21 L313.51,87.23 L313.88,87.25 L314.26,87.28 L314.63,87.30 L315.01,87.32 L315.38,87.35 L315.75,87.37 L316.13,87.39 L316.50,87.41 L316.88,87.44 L317.25,87.46 L317.63,87.48 L318.00,87.50" stroke="#4a4aff"/>
<path d="M202.40,5.00 L202.41,5.48 L202.42,5.96 L202.43,6.45 L202.43,6.93 L202.44,7.41 L202.45,7.89 L202.46,8.38 L202.47,8.86 L202.48,9.34 L202.49,9.82 L202.50,10.31 L202.51,10.79 L202.52,11.27 L202.52,11.75 L202.53,12.24 L202.54,12.72 L202.55,13.20 L202.56,13.68 L202.57,14.17 L202.58,14.65 L202.59,15.13 L202.60,15.61 L202.61,16.10 L202.62,16.58 L202.63,17.06 L202.64,17.54 L202.65,18.02 L202.66,18.51 L202.67,18.99 L202.68,19.47 L202.69,19.95 L202.70,20.44 L202.71,20.92 L202.72,21.40 L202.73,21.88 L202.74,22.37 L202.75,22.85 L202.76,23.33 L202.77,23.81 L202.78,24.30 L202.80,24.78 L202.81,25.26 L202.82,25.74 L202.83,26.23 L202.84,26.71 L202.85,27.19 L202.86,27.67 L202.87,28.15 L202.88,28.64 L202.89,29.12 L202.90,29.60 L202.91,30.08 L202.92,30.57 L202.93,31.05 L202.94,31.53 L202.95,32.01 L202.97,32.50 L202.98,32.98 L202.99,33.46 L203.00,33.94 L203.01,34.43 L203.02,34.91 L203.03,35.39 L203.04,35.87 L203.06,36.36 L203.07,36.84 L203.08,37.32 L203.09,37.80 L203.10,38.28 L203.12,38.77 L203.13,39.25 L203.14,39.73 L203.16,40.21 L203.17,40.70 L203.18,41.18 L203.20,41.66 L203.21,42.14 L203.23,42.63 L203.24,43.11 L203.25,43.59 L203.27,44.07 L203.29,44.55 L203.30,45.04 L203.32,45.52 L203.33,46.00 L203.35,46.48 L203.37,46.96 L203.39,47.45 L203.40,47.93 L203.42,48.41 L203.44,48.89 L203.46,49.38 L203.48,49.86 L203.50,50.34 L203.52,50.82 L203.54,51.30 L203.57,51.79 L203.59,52.27 L203.61,52.75 L203.63,53.23 L203.66,53.71 L203.68,54.20 L203.70,54.68 L203.73,55.16 L203.75,55.64 L203.78,56.12 L203.81,56.61 L203.83,57.09 L203.86,57.57 L203.89,58.05 L203.91,58.53 L203.94,59.01 L203.97,59.50 L204.00,59.98 L204.03,60.46 L204.06,60.94 L204.09,61.42 L204.12,61.90 L204.16,62.38 L204.19,62.86 L204.23,63.35 L204.27,63.83 L204.30,64.31 L204.34,64.79 L204.38,65.27 L204.42,65.75 L204.46,66.23 L204.50,66.71 L204.55,67.19 L204.59,67.67 L204.63,68.16 L204.68,68.64 L204.72,69.12 L204.77,69.60 L204.81,70.08 L204.86,70.56 L204.91,71.04 L204.95,71.52 L205.00,72.00 L205.05,72.48 L205.09,72.96 L205.14,73.44 L205.19,73.92 L205.23,74.40 L205.28,74.88 L205.33,75.37 L205.38,75.85 L205.43,76.33 L205.48,76.81 L205.54,77.29 L205.59,77.77 L205.65,78.25 L205.71,78.73 L205.77,79.21 L205.84,79.69 L205.90,80.16 L205.97,80.64 L206.05,81.11 L206.13,81.59 L206.21,82.06 L206.30,82.54 L206.39,83.04 L206.49,83.54 L206.60,84.05 L206.73,84.53 L206.87,85.00 L207.03,85.43 L207.21,85.83 L207.42,86.19 L207.73,86.56 L208.11,86.92 L208.55,87.23 L209.00,87.47 L209.45,87.59 L209.88,87.63 L210.33,87.66 L210.80,87.69 L211.28,87.72 L211.77,87.74 L212.26,87.76 L212.76,87.77 L213.26,87.78 L213.76,87.79 L214.26,87.80 L214.75,87.80 L215.23,87.80 L215.71,87.80 L216.19,87.80 L216.68,87.80 L217.16,87.80 L217.64,87.80 L218.12,87.80 L218.61,87.80 L219.09,87.80 L219.57,87.80 L220.05,87.80 L220.54,87.80 L221.02,87.80 L221.50,87.80 L221.98,87.80 L222.46,87.80 L222.95,87.80 L223.43,87.80 L223.91,87.80 L224.39,87.80 L224.88,87.80 L225.36,87.80 L225.84,87.80 L226.32,87.80 L226.81,87.80 L227.29,87.80 L227.77,87.80 L228.25,87.80 L228.73,87.80 L229.22,87.80 L229.70,87.80 L230.18,87.80 L230.66,87.80 L231.15,87.80 L231.63,87.80 L232.11,87.80 L232.59,87.80 L233.08,87.80 L233.56,87.80 L234.04,87.80 L234.52,87.80 L235.00,87.80 L235.49,87.80 L235.97,87.80 L236.45,87.80 L236.93,87.80 L237.42,87.80 L237.90,87.80 L238.38,87.80 L238.86,87.80 L239.35,87.80 L239.83,87.80 L240.31,87.80 L240.79,87.80 L241.28,87.80 L241.76,87.80 L242.24,87.80 L242.72,87.80 L243.20,87.80 L243.69,87.80 L244.17,87.80 L244.65,87.80 L245.13,87.80 L245.62,87.80 L246.10,87.80 L246.58,87.80 L247.06,87.80 L247.55,87.80 L248.03,87.80 L248.51,87.80 L248.99,87.80 L249.48,87.80 L249.96,87.80 L250.44,87.80 L250.92,87.80 L251.41,87.80 L251.89,87.80 L252.37,87.80 L252.85,87.80 L253.33,87.80 L253.82,87.80 L254.30,87.80 L254.78,87.80 L255.26,87.80 L255.75,87.80 L256.23,87.80 L256.71,87.80 L257.19,87.80 L257.68,87.80 L258.16,87.80 L258.64,87.80 L259.12,87.80 L259.61,87.80 L260.09,87.80 L260.57,87.80 L261.05,87.80 L261.54,87.80 L262.02,87.80 L262.50,87.80 L262.98,87.80 L263.47,87.80 L263.95,87.80 L264.43,87.80 L264.91,87.80 L265.40,87.80 L265.88,87.80 L266.36,87.80 L266.84,87.80 L267.33,87.80 L267.81,87.80 L268.29,87.80 L268.77,87.80 L269.26,87.80 L269.74,87.80 L270.22,87.80 L270.70,87.80 L271.19,87.80 L271.67,87.80 L272.15,87.80 L272.63,87.80 L273.12,87.80 L273.60,87.80 L274.08,87.80 L274.56,87.80 L275.05,87.80 L275.53,87.80 L276.01,87.80 L276.49,87.80 L276.98,87.80 L277.46,87.80 L277.94,87.80 L278.42,87.80 L278.91,87.80 L279.39,87.80 L279.87,87.80 L280.35,87.80 L280.84,87.80 L281.32,87.80 L281.80,87.80 L282.28,87.80 L282.77,87.80 L283.25,87.80 L283.73,87.80 L284.21,87.80 L284.70,87.80 L285.18,87.80 L285.66,87.80 L286.14,87.80 L286.63,87.80 L287.11,87.80 L287.59,87.80 L288.07,87.80 L288.56,87.80 L289.04,87.80 L289.52,87.80 L290.00,87.80 L290.49,87.80 L290.97,87.80 L291.45,87.80 L291.93,87.80 L292.42,87.80 L292.90,87.80 L293.38,87.80 L293.86,87.80 L294.35,87.80 L294.83,87.80 L295.31,87.80 L295.80,87.80 L296.28,87.80 L296.76,87.80 L297.24,87.80 L297.73,87.80 L298.21,87.80 L298.69,87.80 L299.17,87.80 L299.66,87.80 L300.14,87.80 L300.62,87.80 L301.10,87.80 L301.59,87.80 L302.07,87.80 L302.55,87.80 L303.04,87.80 L303.52,87.80 L304.00,87.80 L304.48,87.80 L304.97,87.80 L305.45,87.80 L305.93,87.80 L306.41,87.80 L306.90,87.80 L307.38,87.80 L307.86,87.80 L308.34,87.80 L308.83,87.80 L309.31,87.80 L309.79,87.80 L310.28,87.80 L310.76,87.80 L311.24,87.80 L311.72,87.80 L312.21,87.80 L312.69,87.80 L313.17,87.80 L313.66,87.80 L314.14,87.80 L314.62,87.80 L315.10,87.80 L315.59,87.80 L316.07,87.80 L316.55,87.80 L317.03,87.80 L317.52,87.80 L318.00,87.80" stroke="#007d00"/>
</g>
<path d="M197.50,92.8v-2.7M197.50,4.6v2.7M202.32,92.8v-1.6M202.32,4.6v1.6M207.14,92.8v-1.6M207.14,4.6v1.6M211.96,92.8v-1.6M211.96,4.6v1.6M216.78,92.8v-1.6M216.78,4.6v1.6M221.60,92.8v-2.7M221.60,4.6v2.7M226.42,92.8v-1.6M226.42,4.6v1.6M231.24,92.8v-1.6M231.24,4.6v1.6M236.06,92.8v-1.6M236.06,4.6v1.6M240.88,92.8v-1.6M240.88,4.6v1.6M245.70,92.8v-2.7M245.70,4.6v2.7M250.52,92.8v-1.6M250.52,4.6v1.6M255.34,92.8v-1.6M255.34,4.6v1.6M260.16,92.8v-1.6M260.16,4.6v1.6M264.98,92.8v-1.6M264.98,4.6v1.6M269.80,92.8v-2.7M269.80,4.6v2.7M274.62,92.8v-1.6M274.62,4.6v1.6M279.44,92.8v-1.6M279.44,4.6v1.6M284.26,92.8v-1.6M284.26,4.6v1.6M289.08,92.8v-1.6M289.08,4.6v1.6M293.90,92.8v-2.7M293.90,4.6v2.7M298.72,92.8v-1.6M298.72,4.6v1.6M303.54,92.8v-1.6M303.54,4.6v1.6M308.36,92.8v-1.6M308.36,4.6v1.6M313.18,92.8v-1.6M313.18,4.6v1.6M318.00,92.8v-2.7M318.00,4.6v2.7M195.7,87.80h2.7M320.3,87.80h-2.7M195.7,83.58h1.6M320.3,83.58h-1.6M195.7,79.35h1.6M320.3,79.35h-1.6M195.7,75.12h1.6M320.3,75.12h-1.6M195.7,70.90h2.7M320.3,70.90h-2.7M195.7,66.67h1.6M320.3,66.67h-1.6M195.7,62.45h1.6M320.3,62.45h-1.6M195.7,58.22h1.6M320.3,58.22h-1.6M195.7,54.00h2.7M320.3,54.00h-2.7M195.7,49.78h1.6M320.3,49.78h-1.6M195.7,45.55h1.6M320.3,45.55h-1.6M195.7,41.33h1.6M320.3,41.33h-1.6M195.7,37.10h2.7M320.3,37.10h-2.7M195.7,32.88h1.6M320.3,32.88h-1.6M195.7,28.65h1.6M320.3,28.65h-1.6M195.7,24.43h1.6M320.3,24.43h-1.6M195.7,20.20h2.7M320.3,20.20h-2.7M195.7,15.98h1.6M320.3,15.98h-1.6M195.7,11.75h1.6M320.3,11.75h-1.6M195.7,7.53h1.6M320.3,7.53h-1.6" stroke="#111" stroke-width="0.75" fill="none"/>
<rect x="195.7" y="4.6" width="124.60000000000002" height="88.2" fill="none" stroke="#222" stroke-width="0.8"/>
<g font-family="Liberation Sans, sans-serif" font-size="8.3" fill="#000" style="filter:grayscale(1)">
<text x="197.50" y="103.2" text-anchor="middle">0</text>
<text x="221.60" y="103.2" text-anchor="middle">1</text>
<text x="245.70" y="103.2" text-anchor="middle">2</text>
<text x="269.80" y="103.2" text-anchor="middle">3</text>
<text x="293.90" y="103.2" text-anchor="middle">4</text>
<text x="318.00" y="103.2" text-anchor="middle">5</text>
<text x="191.6" y="90.80" text-anchor="end">0.00</text>
<text x="191.6" y="73.90" text-anchor="end">0.02</text>
<text x="191.6" y="57.00" text-anchor="end">0.04</text>
<text x="191.6" y="40.10" text-anchor="end">0.06</text>
<text x="191.6" y="23.20" text-anchor="end">0.08</text>
</g>
<g font-family="Liberation Sans, sans-serif" fill="#000" style="filter:grayscale(1)">
<text transform="translate(12.7,115.3) rotate(-90)" font-size="15.2" font-style="italic">C<tspan font-family="Liberation Mono, monospace" font-size="10" dy="2.6" dx="-1.2">I</tspan></text>
<text transform="translate(163.8,60.3) rotate(-90)" font-size="9.3" font-style="italic">C<tspan font-family="Liberation Mono, monospace" font-size="7.6" dy="2.2" dx="-0.9">I</tspan><tspan font-style="normal" font-size="6.8" dy="-6.6" dx="1.0">vac</tspan></text>
<text x="179.3" y="245" font-size="13.4" letter-spacing="0.4">ΔE/<tspan font-style="italic" font-size="14.3" dx="0.4">σ</tspan></text>
</g>
<line x1="65.6" y1="267" x2="85.2" y2="267" stroke="#ff6262" stroke-width="2.0"/>
<text x="92.0" y="270.2" font-family="Liberation Sans, sans-serif" font-size="12.2" fill="#000" style="filter:grayscale(1)"><tspan font-style="italic">v</tspan><tspan font-style="italic" font-size="9" dy="2.6">A</tspan><tspan dy="-1.8">=</tspan><tspan dy="-0.8" dx="0.6" letter-spacing="0.25">0.1</tspan></text>
<line x1="138.8" y1="267" x2="158.5" y2="267" stroke="#007d00" stroke-width="2.0"/>
<text x="165.0" y="270.2" font-family="Liberation Sans, sans-serif" font-size="12.2" fill="#000" style="filter:grayscale(1)"><tspan font-style="italic">v</tspan><tspan font-style="italic" font-size="9" dy="2.6">A</tspan><tspan dy="-1.8">=</tspan><tspan dy="-0.8" dx="0.6" letter-spacing="0.25">0.5</tspan></text>
<line x1="212.0" y1="267" x2="231.8" y2="267" stroke="#4a4aff" stroke-width="2.0"/>
<text x="238.6" y="270.2" font-family="Liberation Sans, sans-serif" font-size="12.2" fill="#000" style="filter:grayscale(1)"><tspan font-style="italic">v</tspan><tspan font-style="italic" font-size="9" dy="2.6">A</tspan><tspan dy="-1.8">=</tspan><tspan dy="-0.8" dx="0.6" letter-spacing="0.25">0.95</tspan></text>
</svg>
</body></html>
